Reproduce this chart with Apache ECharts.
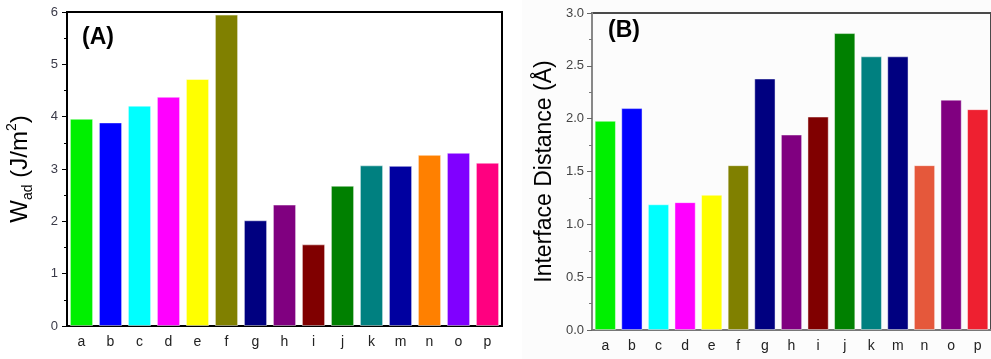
<!DOCTYPE html>
<html>
<head>
<meta charset="utf-8">
<script src="https://cdn.jsdelivr.net/npm/echarts@6/dist/echarts.min.js"></script>
<style>
  html, body { margin: 0; padding: 0; background: #ffffff; }
  #chart { width: 991px; height: 359px; }
</style>
</head>
<body>
<div id="chart"></div>
<script>
// Sample labels shared by both panels
const categories = ['a', 'b', 'c', 'd', 'e', 'f', 'g', 'h', 'i', 'j', 'k', 'm', 'n', 'o', 'p'];

// Panel A: work of adhesion, J/m^2
const workAdhesion = [3.96, 3.89, 4.21, 4.38, 4.72, 5.95, 2.02, 2.32, 1.56, 2.68, 3.07, 3.06, 3.27, 3.31, 3.12];

// Panel B: interface distance, angstrom
const interfaceDistance = [1.98, 2.10, 1.19, 1.21, 1.28, 1.56, 2.38, 1.85, 2.02, 2.81, 2.59, 2.59, 1.56, 2.18, 2.09];

// Tick values for the two value axes
const ticksA = [0, 1, 2, 3, 4, 5, 6];
const ticksB = [0, 0.5, 1.0, 1.5, 2.0, 2.5, 3.0];

// Bar colours per sample
const paletteA = ['#00f000', '#0000ff', '#00ffff', '#ff00ff', '#ffff00', '#808000', '#000080', '#800080',
                  '#800000', '#008000', '#008080', '#0000a0', '#ff8000', '#8000ff', '#ff0080'];
const paletteB = ['#00f000', '#0000ff', '#00ffff', '#ff00ff', '#ffff00', '#808000', '#000080', '#800080',
                  '#800000', '#008000', '#008080', '#000080', '#e5583b', '#800080', '#ee2030'];

const chart = echarts.init(document.getElementById('chart'), null, { renderer: 'canvas' });

const font = 'Liberation Sans, Arial, sans-serif';

function coloured(values, palette) {
  return values.map((v, i) => ({
    value: v,
    itemStyle: { color: palette[i] }
  }));
}

chart.setOption({
  animation: false,
  backgroundColor: '#ffffff',
  textStyle: { fontFamily: font },
  graphic: [
    {
      type: 'rect', z: -10, silent: true,
      shape: { x: 522, y: 0, width: 469, height: 359 },
      style: { fill: '#fcfcfc' }
    },
    {
      type: 'text', left: 82, top: 26,
      style: { text: '(A)', font: 'bold 23px ' + font, fill: '#000' }
    },
    {
      type: 'text', left: 608, top: 19,
      style: { text: '(B)', font: 'bold 23px ' + font, fill: '#000' }
    }
  ],
  grid: [
    { left: 67, top: 12, right: 489, bottom: 33, show: true, borderColor: '#000', borderWidth: 2, backgroundColor: 'transparent' },
    { left: 592, top: 13, width: 410, bottom: 29, show: true, borderColor: '#4a4a4a', borderWidth: 2, backgroundColor: 'transparent' }
  ],
  xAxis: [
    {
      type: 'category', gridIndex: 0, data: categories,
      axisLine: { lineStyle: { color: '#000', width: 2 } },
      axisTick: { show: false },
      axisLabel: { color: '#222', fontSize: 14, margin: 9, fontFamily: font }
    },
    {
      type: 'category', gridIndex: 1, data: categories,
      axisLine: { lineStyle: { color: '#777', width: 2 } },
      axisTick: { show: false },
      axisLabel: { color: '#222', fontSize: 14, margin: 9, fontFamily: font }
    }
  ],
  yAxis: [
    {
      type: 'value', gridIndex: 0,
      min: ticksA[0], max: ticksA[ticksA.length - 1], interval: ticksA[1] - ticksA[0],
      splitLine: { show: false },
      axisLine: { show: true, lineStyle: { color: '#000', width: 2 } },
      axisTick: { show: true, length: 5, lineStyle: { color: '#000', width: 1 } },
      minorTick: { show: true, splitNumber: 2, length: 3, lineStyle: { color: '#000', width: 1 } },
      axisLabel: { color: '#3a3a48', fontSize: 13, margin: 9, fontFamily: font },
      name: '{w|W}{sub|ad}{w| (J/m}{sup|2}{w|)}',
      nameLocation: 'middle',
      nameGap: 32,
      nameTextStyle: {
        fontFamily: font,
        rich: {
          w: { fontSize: 24, color: '#000', fontFamily: font, lineHeight: 30, verticalAlign: 'middle' },
          sub: { fontSize: 14, color: '#000', fontFamily: font, lineHeight: 30, verticalAlign: 'bottom' },
          sup: { fontSize: 14, color: '#000', fontFamily: font, lineHeight: 30, verticalAlign: 'top' }
        }
      }
    },
    {
      type: 'value', gridIndex: 1,
      min: ticksB[0], max: ticksB[ticksB.length - 1], interval: ticksB[1] - ticksB[0],
      splitLine: { show: false },
      axisLine: { show: true, lineStyle: { color: '#888', width: 2 } },
      axisTick: { show: true, length: 5, lineStyle: { color: '#666', width: 1 } },
      minorTick: { show: true, splitNumber: 2, length: 3, lineStyle: { color: '#777', width: 1 } },
      axisLabel: {
        color: '#444', fontSize: 13, margin: 8, fontFamily: font,
        formatter: v => v.toFixed(1)
      },
      name: 'Interface Distance (Å)',
      nameLocation: 'middle',
      nameGap: 36,
      nameTextStyle: { fontSize: 23, color: '#000', fontFamily: font }
    }
  ],
  series: [
    {
      type: 'bar', xAxisIndex: 0, yAxisIndex: 0,
      data: coloured(workAdhesion, paletteA),
      barCategoryGap: '20%',
      itemStyle: { borderColor: 'rgba(255,255,255,0.45)', borderWidth: 1 }
    },
    {
      type: 'bar', xAxisIndex: 1, yAxisIndex: 1,
      data: coloured(interfaceDistance, paletteB),
      barCategoryGap: '20%',
      itemStyle: { borderColor: 'rgba(255,255,255,0.45)', borderWidth: 1 }
    }
  ]
});
</script>
</body>
</html>
